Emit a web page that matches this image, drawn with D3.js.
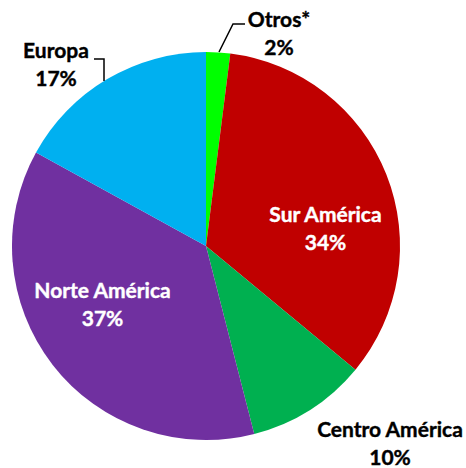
<!DOCTYPE html>
<html><head><meta charset="utf-8">
<script src="https://cdn.jsdelivr.net/npm/d3@7"></script>
<style>html,body{margin:0;padding:0;background:#fff;}svg{display:block;}</style>
</head><body>
<script>
const categories = ["Otros*", "Sur América", "Centro América", "Norte América", "Europa"];
const values = [2, 34, 10, 37, 17];
const colors = ["#00FF00", "#C00000", "#00B050", "#7030A0", "#00B0F0"];
const textColors = ["#000", "#fff", "#000", "#fff", "#000"];

const W = 466, H = 468;
const cx = 206, cy = 246, R = 194;
// label layout: center x, first baseline (px)
const labelLayout = [
  {x: 279, y: 27},
  {x: 325.5, y: 222},
  {x: 390, y: 437},
  {x: 102.5, y: 298},
  {x: 56, y: 58}
];
const lineGap = 27.5;
// leader lines (only for outside labels)
const leaders = {
  0: [[219, 52], [233, 24], [245, 24]],
  4: [[94, 59], [104, 59], [104, 81]]
};

const svg = d3.select("body").append("svg").attr("width", W).attr("height", H);
const data = categories.map((c, i) => ({cat: c, value: values[i], color: colors[i], tc: textColors[i], i}));
const pie = d3.pie().sort(null).value(d => d.value);
const arc = d3.arc().innerRadius(0).outerRadius(R);
const g = svg.append("g").attr("transform", `translate(${cx},${cy})`);
g.selectAll("path").data(pie(data)).join("path")
  .attr("d", arc).attr("fill", d => d.data.color);

const line = d3.line();
Object.entries(leaders).forEach(([k, pts]) => {
  svg.append("path").attr("d", line(pts)).attr("fill", "none")
    .attr("stroke", "#000").attr("stroke-width", 1.5);
});

const fmt = v => d3.format(".0f")(v) + "%";
const total = d3.sum(values);
data.forEach((d, i) => {
  const L = labelLayout[i];
  const t = svg.append("text").attr("text-anchor", "middle")
    .attr("font-family", "Lato, 'Open Sans', sans-serif").attr("font-weight", "bold")
    .attr("font-size", 21).attr("fill", d.tc)
    .attr("stroke", d.tc).attr("stroke-width", 0.4);
  t.append("tspan").attr("x", L.x).attr("y", L.y).text(d.cat);
  t.append("tspan").attr("x", L.x).attr("y", L.y + lineGap).text(fmt(d.value / total * 100));
});
</script>
</body></html>
